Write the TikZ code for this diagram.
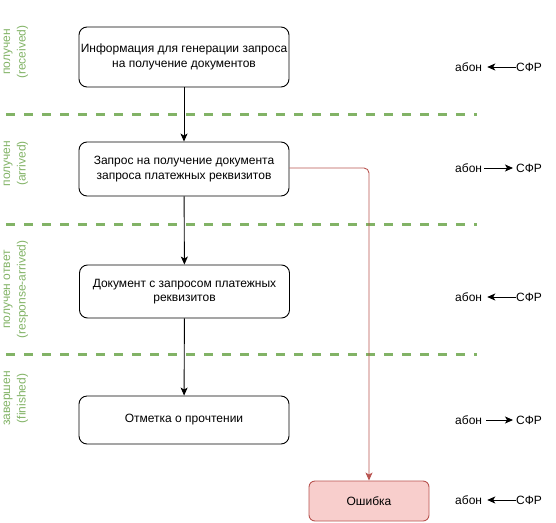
\documentclass[tikz,border=0pt]{standalone}
\usepackage{fontspec}
\setmainfont{Liberation Sans}
\usetikzlibrary{arrows.meta}
\definecolor{grn}{HTML}{82B366}
\definecolor{redl}{HTML}{B85450}
\definecolor{redf}{HTML}{F8CECC}
\begin{document}
\begin{tikzpicture}[x=1pt,y=-1pt,
  font=\fontsize{12}{14.4}\selectfont,
  box/.style={draw=black, line width=0.9pt, rounded corners=8pt, minimum width=210pt, inner sep=0pt, align=center},
  errbox/.style={draw=redl, fill=redf, line width=0.9pt, rounded corners=6pt, minimum width=120pt, minimum height=40pt, inner sep=0pt, align=center},
  lbl/.style={text=grn, rotate=90, align=center, inner sep=0pt, font=\fontsize{12}{15.5}\selectfont},
  sep/.style={draw=grn, line width=3pt, dash pattern=on 9pt off 9pt},
  arr/.style={draw=black, line width=0.9pt, -{Stealth[length=8pt,width=7pt,inset=2pt]}},
  rarr/.style={draw=redl, line width=0.9pt, rounded corners=5pt, -{Stealth[length=8pt,width=7pt,inset=2pt]}},
  txt/.style={inner sep=0pt, anchor=west}
]
\useasboundingbox (0,0) rectangle (556,522);

% separators
\coordinate (d1a) at (6,114); \coordinate (d1b) at (477,114);
\coordinate (d2a) at (6,224); \coordinate (d2b) at (477,224);
\coordinate (d3a) at (6,354); \coordinate (d3b) at (477,354);
\draw[sep] (d1a) -- (d1b);
\draw[sep] (d2a) -- (d2b);
\draw[sep] (d3a) -- (d3b);

% left labels
\node[lbl] (l1) at (16,52) {получен\\(received)};
\node[lbl] (l2) at (16,163.5) {получен\\(arrived)};
\node[lbl] (l3) at (16,289.5) {получен ответ\\(response-arrived)};
\node[lbl] (l4) at (16,398.5) {завершен\\(finished)};

% boxes
\node[box, minimum height=60pt] (b1) at (184,57) {Информация для генерации запроса\\на получение документов};
\node[box, minimum height=54pt] (b2) at (184,169) {Запрос на получение документа\\запроса платежных реквизитов};
\node[box, minimum height=53pt] (b3) at (184.5,291.5) {Документ с запросом платежных\\реквизитов};
\node[box, minimum height=48pt] (b4) at (184,420) {Отметка о прочтении};
\node[errbox] (e) at (369,501) {Ошибка};

\draw[arr] (b1) -- (b2);
\draw[arr] (b2) -- (b3);
\draw[arr] (b3) -- (b4);
\draw[rarr] (b2.east |- 0,168) -| (e.north);

% right side
\node[txt] (a1) at (455,67) {абон}; \node[txt] (s1) at (516,67) {СФР};
\node[txt] (a2) at (455,168) {абон}; \node[txt] (s2) at (516,168) {СФР};
\node[txt] (a3) at (455,297) {абон}; \node[txt] (s3) at (516,297) {СФР};
\node[txt] (a4) at (455,420) {абон}; \node[txt] (s4) at (516,420) {СФР};
\node[txt] (a5) at (455,500) {абон}; \node[txt] (s5) at (516,500) {СФР};
\draw[arr, shorten >=5pt] (s1.west) -- (a1.east);
\draw[arr, shorten <=2pt, shorten >=3pt] (a2.east) -- (s2.west);
\draw[arr, shorten >=5pt] (s3.west) -- (a3.east);
\draw[arr, shorten <=4pt, shorten >=3pt] (a4.east) -- (s4.west);
\draw[arr, shorten >=5pt] (s5.west) -- (a5.east);
\end{tikzpicture}
\end{document}
